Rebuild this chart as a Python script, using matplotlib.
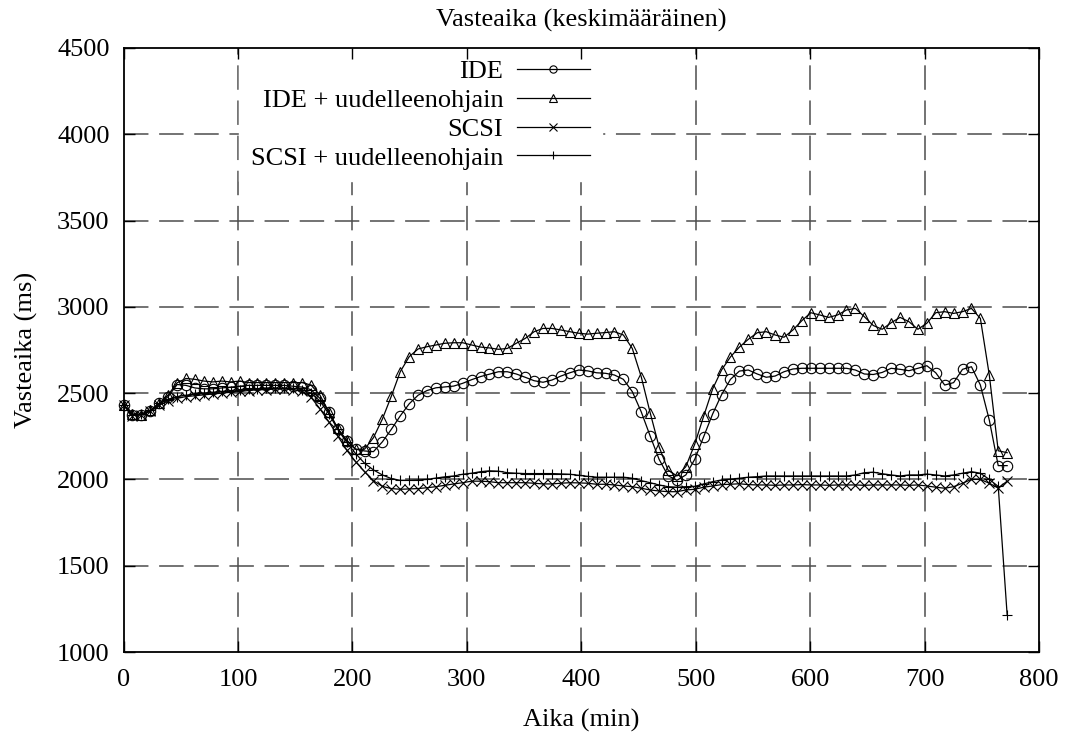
import numpy as np
import matplotlib
matplotlib.use("Agg")
import matplotlib.pyplot as plt

# sample times (min), one sample roughly every 7.8 min
aika = np.arange(100) * 7.8

ide = [2430, 2375, 2375, 2395, 2440, 2480, 2550, 2545, 2530, 2525,
       2525, 2530, 2535, 2540, 2545, 2545, 2545, 2545, 2545, 2540,
       2535, 2520, 2470, 2392, 2293, 2223, 2175, 2165, 2161, 2218,
       2290, 2368, 2438, 2488, 2515, 2531, 2536, 2541, 2557, 2578,
       2596, 2610, 2624, 2624, 2611, 2592, 2572, 2563, 2576, 2599,
       2618, 2634, 2629, 2618, 2615, 2605, 2580, 2509, 2392, 2252,
       2117, 2022, 1995, 2026, 2117, 2248, 2379, 2491, 2580, 2628,
       2634, 2611, 2592, 2599, 2624, 2640, 2644, 2644, 2644, 2644,
       2644, 2644, 2634, 2611, 2608, 2620, 2644, 2638, 2630, 2644,
       2659, 2618, 2547, 2561, 2638, 2653, 2547, 2344, 2080, 2080]

ide_uo = [2430, 2380, 2375, 2400, 2440, 2490, 2560, 2585, 2580, 2570,
          2565, 2570, 2565, 2570, 2561, 2561, 2561, 2561, 2561, 2561,
          2561, 2547, 2489, 2392, 2296, 2228, 2175, 2175, 2242, 2350,
          2482, 2624, 2711, 2756, 2769, 2779, 2789, 2792, 2792, 2779,
          2767, 2762, 2754, 2759, 2789, 2817, 2856, 2875, 2875, 2866,
          2856, 2847, 2842, 2847, 2851, 2856, 2837, 2759, 2595, 2387,
          2190, 2055, 2020, 2074, 2205, 2367, 2524, 2634, 2710, 2767,
          2812, 2850, 2856, 2837, 2824, 2866, 2920, 2966, 2953, 2939,
          2953, 2982, 2991, 2943, 2892, 2870, 2908, 2939, 2914, 2870,
          2905, 2966, 2972, 2962, 2972, 2991, 2933, 2605, 2166, 2155]

scsi = [2430, 2370, 2375, 2395, 2430, 2455, 2470, 2480, 2485, 2490,
        2495, 2500, 2505, 2510, 2515, 2520, 2520, 2525, 2525, 2520,
        2510, 2476, 2410, 2334, 2252, 2170, 2103, 2045, 1992, 1960,
        1947, 1943, 1945, 1947, 1952, 1958, 1966, 1974, 1981, 1990,
        1990, 1987, 1981, 1981, 1981, 1981, 1978, 1974, 1974, 1978,
        1981, 1980, 1978, 1972, 1972, 1968, 1962, 1958, 1949, 1939,
        1933, 1929, 1929, 1939, 1943, 1955, 1962, 1970, 1972, 1975,
        1970, 1968, 1968, 1966, 1968, 1968, 1970, 1968, 1968, 1966,
        1968, 1968, 1968, 1966, 1968, 1968, 1968, 1968, 1966, 1968,
        1962, 1955, 1949, 1958, 1978, 2000, 2000, 1978, 1950, 1990]

scsi_uo = [2430, 2375, 2380, 2400, 2440, 2465, 2480, 2488, 2495, 2500,
           2505, 2510, 2515, 2520, 2525, 2525, 2530, 2530, 2530, 2528,
           2520, 2500, 2455, 2380, 2290, 2215, 2150, 2094, 2055, 2026,
           2005, 1995, 1995, 1997, 2000, 2008, 2015, 2020, 2030, 2036,
           2045, 2050, 2048, 2039, 2036, 2034, 2034, 2034, 2034, 2032,
           2030, 2024, 2018, 2013, 2013, 2013, 2013, 2007, 1993, 1981,
           1968, 1958, 1955, 1958, 1960, 1974, 1987, 1997, 2001, 2007,
           2013, 2016, 2020, 2020, 2020, 2020, 2020, 2020, 2020, 2020,
           2020, 2020, 2026, 2039, 2042, 2033, 2026, 2020, 2026, 2026,
           2031, 2026, 2020, 2026, 2036, 2045, 2036, 2000, 1960, 1215]

nimet = ["IDE", "IDE + uudelleenohjain", "SCSI", "SCSI + uudelleenohjain"]
merkit = ["o", "^", "x", "+"]

x_ticks = np.arange(0, 801, 100)
y_ticks = np.arange(1000, 4501, 500)

plt.rcParams['font.family'] = ['Liberation Serif', 'DejaVu Serif']
plt.rcParams['font.size'] = 19

fig = plt.figure(figsize=(10.8, 7.38), dpi=100)
ax = fig.add_axes([0.1144, 0.1165, 0.8476, 0.8185])

# grid drawn by hand so the legend box hides it but not the ticks
for xt in x_ticks[1:-1]:
    ax.axvline(xt, color='0.3', lw=1.1, linestyle=(0, (16, 7)), zorder=1)
for yt in y_ticks[1:-1]:
    ax.axhline(yt, color='0.3', lw=1.1, linestyle=(0, (16, 7)), zorder=1)

for y, nimi, m in zip([ide, ide_uo, scsi, scsi_uo], nimet, merkit):
    ax.plot(aika, y, color='black', lw=0.9, marker=m, markersize=7.5,
            markerfacecolor='none', markeredgecolor='black', markeredgewidth=0.8,
            label=nimi, clip_on=False, zorder=3)

ax.set_xlim(0, 800)
ax.set_ylim(1000, 4500)
ax.set_xticks(x_ticks)
ax.set_yticks(y_ticks)
ax.set_axisbelow(False)
ax.tick_params(direction='in', length=8, width=1, top=True, right=True)
ax.tick_params(axis='x', pad=12)
ax.tick_params(axis='y', pad=10)
for s in ax.spines.values():
    s.set_linewidth(1.3)

ax.set_title("Vasteaika (keskimääräinen)", fontsize=19, pad=15.5)
ax.set_xlabel("Aika (min)", labelpad=13)
ax.set_ylabel("Vasteaika (ms)", labelpad=14)

leg = ax.legend(loc='upper right', bbox_to_anchor=(0.523, 1.0), borderaxespad=0.0,
                markerfirst=False, alignment='right', handlelength=2.8,
                handletextpad=0.5, labelspacing=0.2, markerscale=0.7,
                frameon=True, fancybox=False, edgecolor='white', framealpha=1.0,
                borderpad=0.45)
leg.set_zorder(2)

fig.savefig("out.png", dpi=100)
